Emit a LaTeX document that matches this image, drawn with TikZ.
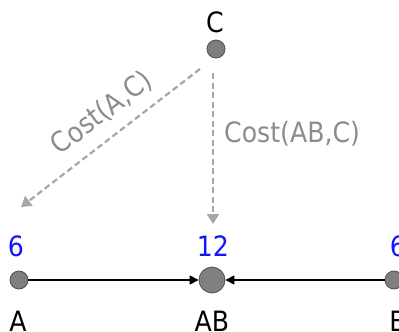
\documentclass[tikz,border=0pt]{standalone}
\usepackage{fontspec}
\setmainfont{DejaVu Sans Condensed}
\usetikzlibrary{arrows.meta}
\definecolor{dotfill}{HTML}{7F7F7F}
\definecolor{dotline}{HTML}{4F4F4F}
\definecolor{dashcol}{HTML}{A6A6A6}
\definecolor{costcol}{HTML}{8C8C8C}
\definecolor{numblue}{HTML}{1414FF}
\tikzset{
  dot/.style={circle, fill=dotfill, draw=dotline, line width=0.8pt, inner sep=0pt, minimum size=#1},
  lbl/.style={font=\fontsize{28}{33}\selectfont, text=black, inner sep=0pt},
  num/.style={font=\fontsize{28}{33}\selectfont, text=numblue, inner sep=0pt},
  cost/.style={font=\fontsize{28}{33}\selectfont, text=costcol, inner sep=0pt},
  dashedarrow/.style={draw=dashcol, line width=2.2pt, dash pattern=on 6pt off 3.5pt,
     -{Triangle[length=10pt,width=12pt,fill=dashcol]}},
  solidarrow/.style={draw=black, line width=1.3pt, -{Triangle[length=9pt,width=9pt]}}
}
\begin{document}
\begin{tikzpicture}[x=1pt,y=-1pt]
\useasboundingbox (0,0) rectangle (399,332);
% nodes
\node[dot=18pt] (C) at (216,49) {};
\node[dot=18pt] (A) at (19,280) {};
\node[dot=26pt] (AB) at (212,280) {};
\node[dot=18pt] (B) at (394,280) {};
% labels
\node[lbl] (lC) at (215,22.5) {C};
\node[lbl] (lA) at (18,321) {A};
\node[lbl] (lAB) at (212,321) {AB};
\node[lbl] (lB) at (398,321) {B};
\node[num] (nA) at (16,246) {6};
\node[num] (nAB) at (213,246) {12};
\node[num] (nB) at (398,246) {6};
% dashed arrows
\coordinate (s1) at (200,69);
\coordinate (e1) at (21,207);
\coordinate (s2) at (213,73);
\coordinate (e2) at (213,224);
\draw[dashedarrow] (s1) -- (e1);
\draw[dashedarrow] (s2) -- (e2);
\node[cost, rotate=37] (cAC) at (102,113) {Cost(A,C)};
\node[cost, anchor=west] (cABC) at (224,134) {Cost(AB,C)};
% solid arrows
\draw[solidarrow] (A) -- (AB);
\draw[solidarrow] (B) -- (AB);
\end{tikzpicture}
\end{document}
